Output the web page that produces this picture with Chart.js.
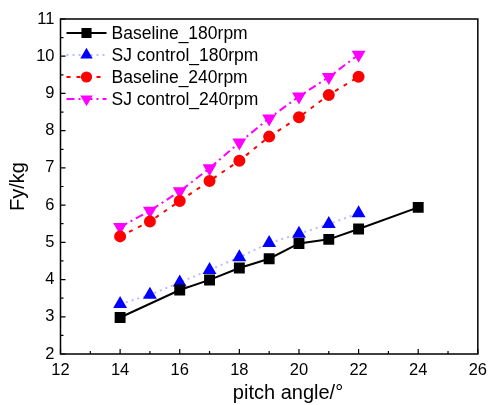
<!DOCTYPE html>
<html>
<head>
<meta charset="utf-8">
<script src="https://cdn.jsdelivr.net/npm/chart.js@4/dist/chart.umd.min.js"></script>
<style>
  html, body { margin: 0; padding: 0; background: #fff; }
  #wrap { width: 494px; height: 405px; }
</style>
</head>
<body>
<div id="wrap"><canvas id="fyChart" width="494" height="405"></canvas></div>
<script>
// pitch angles (deg)
const angles180base = [14, 16, 17, 18, 19, 20, 21, 22, 24];
const angles = [14, 15, 16, 17, 18, 19, 20, 21, 22];

// Fy in kg
const baseline180 = [2.98, 3.72, 3.99, 4.31, 4.56, 4.97, 5.08, 5.36, 5.94];
const sj180 = [3.34, 3.59, 3.92, 4.26, 4.60, 4.98, 5.23, 5.49, 5.78];
const baseline240 = [5.16, 5.56, 6.11, 6.65, 7.19, 7.84, 8.36, 8.96, 9.45];
const sj240 = [5.41, 5.85, 6.37, 6.99, 7.68, 8.33, 8.92, 9.44, 10.04];

const xTicks = [12, 14, 16, 18, 20, 22, 24, 26];
const yTicks = [2, 3, 4, 5, 6, 7, 8, 9, 10, 11];

const FONT = '"Liberation Sans", Arial, Helvetica, sans-serif';

function pts(xs, ys) {
  return xs.map((x, i) => ({ x: x, y: ys[i] }));
}

// frame, inward ticks, axis titles and legend, Origin style
const decor = {
  id: 'decor',
  afterDraw(chart) {
    const ctx = chart.ctx;
    const a = chart.chartArea;
    const xs = chart.scales.x, ys = chart.scales.y;
    ctx.save();
    ctx.strokeStyle = '#000';
    ctx.lineWidth = 1.5;
    ctx.strokeRect(a.left, a.top, a.right - a.left, a.bottom - a.top);

    ctx.lineWidth = 1.2;
    ctx.beginPath();
    for (let v = 12; v <= 26; v += 1) {
      const px = xs.getPixelForValue(v);
      const len = v % 2 === 0 ? 5 : 3;
      ctx.moveTo(px, a.bottom);
      ctx.lineTo(px, a.bottom - len);
    }
    for (let v = 2; v <= 11; v += 0.5) {
      const py = ys.getPixelForValue(v);
      const len = Number.isInteger(v) ? 5 : 3;
      ctx.moveTo(a.left, py);
      ctx.lineTo(a.left + len, py);
    }
    ctx.stroke();

    // axis titles
    ctx.fillStyle = '#000';
    ctx.font = '20px ' + FONT;
    ctx.textAlign = 'center';
    ctx.textBaseline = 'alphabetic';
    ctx.fillText('pitch angle/\u00b0', 288, 399);
    ctx.save();
    ctx.translate(24, (a.top + a.bottom) / 2);
    ctx.rotate(-Math.PI / 2);
    ctx.fillText('Fy/kg', 0, 0);
    ctx.restore();

    // legend in the top-left corner
    const rowY = [33, 55, 77, 99];
    chart.data.datasets.forEach((ds, i) => {
      const y = rowY[i];
      ctx.save();
      ctx.strokeStyle = ds.borderColor;
      ctx.lineWidth = ds.borderWidth;
      ctx.setLineDash(ds.borderDash || []);
      ctx.beginPath();
      ctx.moveTo(a.left + 6, y);
      ctx.lineTo(a.left + 46, y);
      ctx.stroke();
      ctx.restore();
      ctx.save();
      ctx.fillStyle = ds.pointBackgroundColor;
      ctx.strokeStyle = ds.pointBorderColor;
      Chart.helpers.drawPoint(ctx, {
        pointStyle: ds.pointStyle,
        radius: ds.pointRadius,
        rotation: ds.pointRotation || 0,
        borderWidth: 1
      }, a.left + 26, y);
      ctx.restore();
      ctx.fillStyle = '#000';
      ctx.font = '17.5px ' + FONT;
      ctx.textAlign = 'left';
      ctx.textBaseline = 'middle';
      ctx.fillText(ds.label, a.left + 51, y + 1);
    });
    ctx.restore();
  }
};

const canvas = document.getElementById('fyChart');
new Chart(canvas, {
  type: 'line',
  data: {
    datasets: [
      {
        label: 'Baseline_180rpm',
        data: pts(angles180base, baseline180),
        borderColor: '#000000',
        borderWidth: 2,
        pointStyle: 'rect',
        pointRadius: 6.3,
        pointBackgroundColor: '#000000',
        pointBorderColor: '#000000',
      },
      {
        label: 'SJ control_180rpm',
        data: pts(angles, sj180),
        borderColor: 'rgba(170,170,255,0.8)',
        borderWidth: 2,
        borderDash: [2, 4],
        pointStyle: 'triangle',
        pointRadius: 6,
        pointBackgroundColor: '#0000ff',
        pointBorderColor: '#0000ff',
      },
      {
        label: 'Baseline_240rpm',
        data: pts(angles, baseline240),
        borderColor: '#ff0000',
        borderWidth: 2,
        borderDash: [4, 6],
        pointStyle: 'circle',
        pointRadius: 5,
        pointBackgroundColor: '#ff0000',
        pointBorderColor: '#ff0000',
      },
      {
        label: 'SJ control_240rpm',
        data: pts(angles, sj240),
        borderColor: '#ff00ff',
        borderWidth: 2,
        borderDash: [8, 4, 2, 4],
        pointStyle: 'triangle',
        pointRotation: 180,
        pointRadius: 6,
        pointBackgroundColor: '#ff00ff',
        pointBorderColor: '#ff00ff',
      },
    ],
  },
  options: {
    responsive: false,
    animation: false,
    layout: { padding: { left: 0, top: 19, right: 11, bottom: 0 } },
    plugins: { legend: { display: false }, tooltip: { enabled: false } },
    elements: { line: { tension: 0 }, point: { borderWidth: 1 } },
    scales: {
      x: {
        type: 'linear',
        min: 12,
        max: 26,
        afterBuildTicks: (s) => { s.ticks = xTicks.map((v) => ({ value: v })); },
        afterFit: (s) => { s.height = 51; },
        grid: { display: false, drawTicks: false },
        border: { display: false },
        ticks: { color: '#000', padding: 7, maxRotation: 0, autoSkip: false, font: { family: FONT, size: 16.5 } },
      },
      y: {
        type: 'linear',
        min: 2,
        max: 11,
        afterBuildTicks: (s) => { s.ticks = yTicks.map((v) => ({ value: v })); },
        afterFit: (s) => { s.width = 60.5; },
        grid: { display: false, drawTicks: false },
        border: { display: false },
        ticks: { color: '#000', padding: 6, autoSkip: false, font: { family: FONT, size: 16.5 } },
      },
    },
  },
  plugins: [decor],
});
</script>
</body>
</html>
